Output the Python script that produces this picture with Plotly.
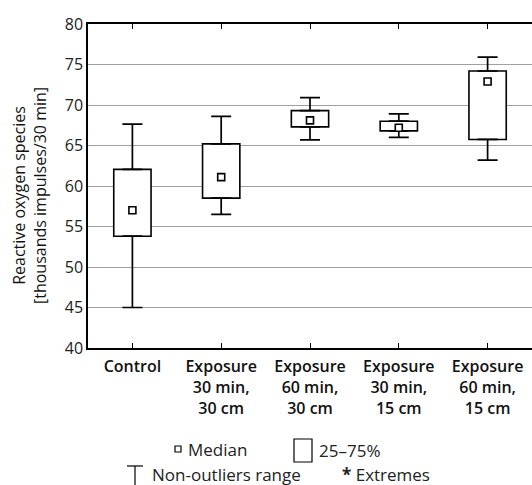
import plotly.graph_objects as go

categories = ["Control", "Exposure<br>30 min,<br>30 cm", "Exposure<br>60 min,<br>30 cm",
              "Exposure<br>30 min,<br>15 cm", "Exposure<br>60 min,<br>15 cm"]
lower = [45.0, 56.5, 65.7, 66.0, 63.2]
q1 = [53.8, 58.5, 67.3, 66.8, 65.75]
median = [57.0, 61.1, 68.1, 67.2, 72.9]
q3 = [62.05, 65.2, 69.3, 68.0, 74.2]
upper = [67.65, 68.6, 70.9, 68.9, 75.9]
y_ticks = [40, 45, 50, 55, 60, 65, 70, 75, 80]

FONT = "Open Sans"
W, H = 532, 485
L, T, R, B = 88, 24, 0, 137
PW, PH = W - L - R, H - T - B


def px(x):
    return (x - L) / PW


def py(y):
    return (H - B - y) / PH


fig = go.Figure()

fig.add_trace(go.Bar(
    x=categories, base=q1, y=[b - a for a, b in zip(q1, q3)], width=0.42,
    marker=dict(color="white", line=dict(color="black", width=1.6)),
    hoverinfo="skip"))

fig.add_trace(go.Scatter(
    x=categories, y=q3, mode="markers",
    marker=dict(size=1, color="rgba(0,0,0,0)"),
    error_y=dict(type="data", symmetric=False,
                 array=[u - a for a, u in zip(q3, upper)],
                 arrayminus=[0] * len(q3), color="black", thickness=1.7, width=10),
    hoverinfo="skip"))

fig.add_trace(go.Scatter(
    x=categories, y=q1, mode="markers",
    marker=dict(size=1, color="rgba(0,0,0,0)"),
    error_y=dict(type="data", symmetric=False,
                 array=[0] * len(q1),
                 arrayminus=[a - l for a, l in zip(q1, lower)], color="black", thickness=1.7, width=10),
    hoverinfo="skip"))

fig.add_trace(go.Scatter(
    x=categories, y=median, mode="markers",
    marker=dict(symbol="square", size=7, color="white", line=dict(color="black", width=1.6))))

shapes = [
    dict(type="rect", xref="paper", yref="paper", x0=px(175), x1=px(181), y0=py(452), y1=py(446),
         line=dict(color="black", width=1.2), fillcolor="white"),
    dict(type="rect", xref="paper", yref="paper", x0=px(294), x1=px(312), y0=py(462), y1=py(439),
         line=dict(color="black", width=1.2), fillcolor="white"),
    dict(type="line", xref="paper", yref="paper", x0=px(135), x1=px(135), y0=py(466), y1=py(492),
         line=dict(color="black", width=1.2)),
    dict(type="line", xref="paper", yref="paper", x0=px(127), x1=px(143), y0=py(466), y1=py(466),
         line=dict(color="black", width=1.2)),
]

lfont = dict(family=FONT, size=17, color="#222")
annotations = [
    dict(text="Reactive oxygen species<br>[thousands impulses/30 min]", textangle=-90,
         xref="paper", yref="paper", x=px(29), y=py(196), xanchor="center", yanchor="middle",
         showarrow=False, font=dict(family=FONT, size=16, color="#111")),
    dict(text="Median", xref="paper", yref="paper", x=px(186), y=py(449), xanchor="left",
         yanchor="middle", showarrow=False, font=lfont),
    dict(text="25–75%", xref="paper", yref="paper", x=px(317), y=py(450), xanchor="left",
         yanchor="middle", showarrow=False, font=lfont),
    dict(text="Non-outliers range", xref="paper", yref="paper", x=px(150), y=py(474), xanchor="left",
         yanchor="middle", showarrow=False, font=lfont),
    dict(text="<b>*</b> Extremes", xref="paper", yref="paper", x=px(340), y=py(474), xanchor="left",
         yanchor="middle", showarrow=False, font=lfont),
]

fig.update_layout(
    width=W, height=H, margin=dict(l=L, r=R, t=T, b=B, pad=0),
    paper_bgcolor="white", plot_bgcolor="white", showlegend=False,
    shapes=shapes, annotations=annotations,
    xaxis=dict(range=[-0.5, 4.5], showline=True, linecolor="black", linewidth=1.5,
               mirror="allticks", ticks="inside", ticklen=5, tickwidth=1.2, tickcolor="black",
               showgrid=False, zeroline=False, ticklabelstandoff=3,
               tickfont=dict(family=FONT, size=16, color="#111", weight=600)),
    yaxis=dict(range=[40, 80], tickvals=y_ticks, showline=True, linecolor="black", linewidth=1.5,
               showgrid=True, gridcolor="#a0a0a0", gridwidth=1, zeroline=False, ticks="",
               tickfont=dict(family=FONT, size=16, color="#222")),
)

fig.write_html("out.html", config={"displayModeBar": False},
               post_script="document.body.style.margin='0';")
